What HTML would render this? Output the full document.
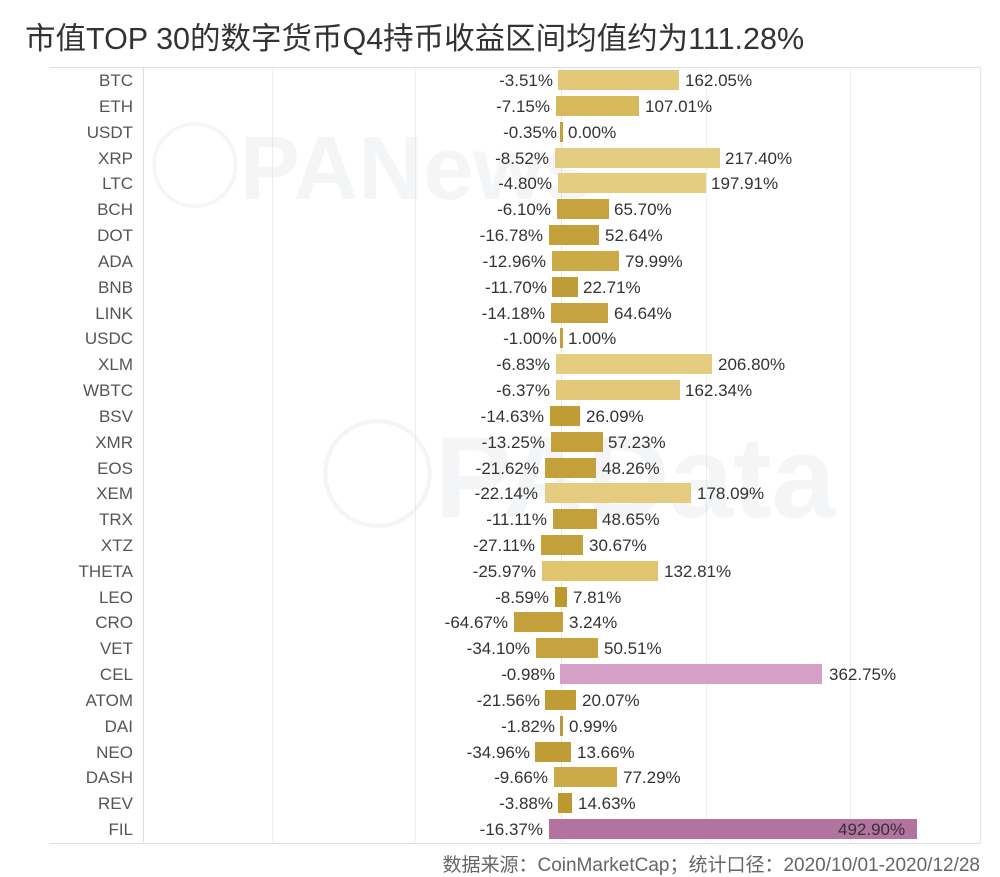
<!DOCTYPE html>
<html><head><meta charset="utf-8"><style>
body{margin:0;width:1000px;height:874px;background:#fff;position:relative;overflow:hidden;font-family:"Liberation Sans","Noto Sans CJK SC",sans-serif}
.t{position:absolute;left:25px;top:14px;font-size:30.5px;color:#333;white-space:nowrap}
.frame{position:absolute;left:50px;top:67px;width:930px;height:775px;border-top:1px solid #ddd;border-bottom:1px solid #ddd;border-right:1px solid #e6e6e6}
.g{position:absolute;top:67px;height:775px;width:1px;background:#eee}
.wm{position:absolute;color:rgba(200,210,220,0.22);font-weight:bold;white-space:nowrap}
.r{position:absolute;left:0;width:1000px;height:20px;font-size:17px;color:#333;line-height:22px}
.r .n{position:absolute;right:867px;color:#555;text-align:right}
.r .b{position:absolute;top:0;height:20px}
.r .l{position:absolute;white-space:nowrap}
.r .neg{text-align:right}
.f{position:absolute;right:20px;top:850px;font-size:19px;color:#666;white-space:nowrap}
</style></head><body>
<div class="t">市值TOP 30的数字货币Q4持币收益区间均值约为111.28%</div>
<div class="frame"></div>
<div class="g" style="left:143px;background:#ddd"></div>
<div class="g" style="left:272px"></div>
<div class="g" style="left:415px"></div>
<div class="g" style="left:561px;background:#e4e4e4"></div>
<div class="g" style="left:706px"></div>
<div class="g" style="left:850px"></div>
<div class="wm" style="left:150px;top:95px;font-size:90px">◯PANews</div>
<div class="wm" style="left:320px;top:385px;font-size:115px">◯PAData</div>
<div class="r" style="top:70px"><span class="n">BTC</span><span class="l neg" style="right:447px">-3.51%</span><span class="b" style="left:558.4px;width:121px;background:#e2c878"></span><span class="l" style="left:685px">162.05%</span></div>
<div class="r" style="top:95.8px"><span class="n">ETH</span><span class="l neg" style="right:450px">-7.15%</span><span class="b" style="left:555.8px;width:83.5px;background:#d6b95a"></span><span class="l" style="left:645px">107.01%</span></div>
<div class="r" style="top:121.7px"><span class="n">USDT</span><span class="l neg" style="right:443px">-0.35%</span><span class="b" style="left:560px;width:3px;background:#c4a03a"></span><span class="l" style="left:568px">0.00%</span></div>
<div class="r" style="top:147.5px"><span class="n">XRP</span><span class="l neg" style="right:451px">-8.52%</span><span class="b" style="left:554.8px;width:165.2px;background:#e4cc80"></span><span class="l" style="left:725px">217.40%</span></div>
<div class="r" style="top:173.3px"><span class="n">LTC</span><span class="l neg" style="right:448px">-4.80%</span><span class="b" style="left:557.5px;width:148.2px;background:#e4cc80"></span><span class="l" style="left:711px">197.91%</span></div>
<div class="r" style="top:199.2px"><span class="n">BCH</span><span class="l neg" style="right:449px">-6.10%</span><span class="b" style="left:556.5px;width:52.5px;background:#c6a33e"></span><span class="l" style="left:614px">65.70%</span></div>
<div class="r" style="top:225px"><span class="n">DOT</span><span class="l neg" style="right:457px">-16.78%</span><span class="b" style="left:548.7px;width:50.7px;background:#c4a03a"></span><span class="l" style="left:605px">52.64%</span></div>
<div class="r" style="top:250.8px"><span class="n">ADA</span><span class="l neg" style="right:454px">-12.96%</span><span class="b" style="left:551.5px;width:67.9px;background:#ccaa48"></span><span class="l" style="left:625px">79.99%</span></div>
<div class="r" style="top:276.6px"><span class="n">BNB</span><span class="l neg" style="right:453px">-11.70%</span><span class="b" style="left:552.4px;width:25.2px;background:#c09c36"></span><span class="l" style="left:583px">22.71%</span></div>
<div class="r" style="top:302.5px"><span class="n">LINK</span><span class="l neg" style="right:455px">-14.18%</span><span class="b" style="left:550.6px;width:57.6px;background:#c6a33e"></span><span class="l" style="left:614px">64.64%</span></div>
<div class="r" style="top:328.3px"><span class="n">USDC</span><span class="l neg" style="right:443px">-1.00%</span><span class="b" style="left:560px;width:3px;background:#c4a03a"></span><span class="l" style="left:568px">1.00%</span></div>
<div class="r" style="top:354.1px"><span class="n">XLM</span><span class="l neg" style="right:450px">-6.83%</span><span class="b" style="left:556px;width:156.2px;background:#e4cc80"></span><span class="l" style="left:718px">206.80%</span></div>
<div class="r" style="top:380px"><span class="n">WBTC</span><span class="l neg" style="right:450px">-6.37%</span><span class="b" style="left:556.3px;width:123.3px;background:#e2c878"></span><span class="l" style="left:685px">162.34%</span></div>
<div class="r" style="top:405.8px"><span class="n">BSV</span><span class="l neg" style="right:456px">-14.63%</span><span class="b" style="left:550.3px;width:29.8px;background:#c09c36"></span><span class="l" style="left:586px">26.09%</span></div>
<div class="r" style="top:431.6px"><span class="n">XMR</span><span class="l neg" style="right:455px">-13.25%</span><span class="b" style="left:551.3px;width:51.5px;background:#c4a03a"></span><span class="l" style="left:608px">57.23%</span></div>
<div class="r" style="top:457.5px"><span class="n">EOS</span><span class="l neg" style="right:461px">-21.62%</span><span class="b" style="left:545.2px;width:51.1px;background:#c4a03a"></span><span class="l" style="left:602px">48.26%</span></div>
<div class="r" style="top:483.3px"><span class="n">XEM</span><span class="l neg" style="right:462px">-22.14%</span><span class="b" style="left:544.8px;width:146.4px;background:#e4cc80"></span><span class="l" style="left:697px">178.09%</span></div>
<div class="r" style="top:509.1px"><span class="n">TRX</span><span class="l neg" style="right:453px">-11.11%</span><span class="b" style="left:552.9px;width:43.7px;background:#c4a03a"></span><span class="l" style="left:602px">48.65%</span></div>
<div class="r" style="top:535px"><span class="n">XTZ</span><span class="l neg" style="right:465px">-27.11%</span><span class="b" style="left:541.2px;width:42.2px;background:#c4a03a"></span><span class="l" style="left:589px">30.67%</span></div>
<div class="r" style="top:560.8px"><span class="n">THETA</span><span class="l neg" style="right:464px">-25.97%</span><span class="b" style="left:542px;width:116.1px;background:#e0c46e"></span><span class="l" style="left:664px">132.81%</span></div>
<div class="r" style="top:586.6px"><span class="n">LEO</span><span class="l neg" style="right:451px">-8.59%</span><span class="b" style="left:554.7px;width:12px;background:#bc982f"></span><span class="l" style="left:573px">7.81%</span></div>
<div class="r" style="top:612.4px"><span class="n">CRO</span><span class="l neg" style="right:492px">-64.67%</span><span class="b" style="left:513.7px;width:49.6px;background:#c4a03a"></span><span class="l" style="left:569px">3.24%</span></div>
<div class="r" style="top:638.3px"><span class="n">VET</span><span class="l neg" style="right:470px">-34.10%</span><span class="b" style="left:536.1px;width:61.9px;background:#c6a33e"></span><span class="l" style="left:604px">50.51%</span></div>
<div class="r" style="top:664.1px"><span class="n">CEL</span><span class="l neg" style="right:445px">-0.98%</span><span class="b" style="left:560.3px;width:262px;background:#d4a0c6"></span><span class="l" style="left:829px">362.75%</span></div>
<div class="r" style="top:689.9px"><span class="n">ATOM</span><span class="l neg" style="right:460px">-21.56%</span><span class="b" style="left:545.2px;width:30.4px;background:#c09c36"></span><span class="l" style="left:582px">20.07%</span></div>
<div class="r" style="top:715.8px"><span class="n">DAI</span><span class="l neg" style="right:445px">-1.82%</span><span class="b" style="left:559.7px;width:3px;background:#b89a44"></span><span class="l" style="left:569px">0.99%</span></div>
<div class="r" style="top:741.6px"><span class="n">NEO</span><span class="l neg" style="right:470px">-34.96%</span><span class="b" style="left:535.4px;width:35.5px;background:#c09c36"></span><span class="l" style="left:577px">13.66%</span></div>
<div class="r" style="top:767.4px"><span class="n">DASH</span><span class="l neg" style="right:452px">-9.66%</span><span class="b" style="left:553.9px;width:63.6px;background:#ccaa48"></span><span class="l" style="left:623px">77.29%</span></div>
<div class="r" style="top:793.3px"><span class="n">REV</span><span class="l neg" style="right:447px">-3.88%</span><span class="b" style="left:558.2px;width:13.5px;background:#bc982f"></span><span class="l" style="left:578px">14.63%</span></div>
<div class="r" style="top:819.1px"><span class="n">FIL</span><span class="l neg" style="right:457px">-16.37%</span><span class="b" style="left:549px;width:368px;background:#b2739f"></span><span class="l" style="left:838px">492.90%</span></div>
<div class="f">数据来源：CoinMarketCap；统计口径：2020/10/01-2020/12/28</div>
</body></html>
